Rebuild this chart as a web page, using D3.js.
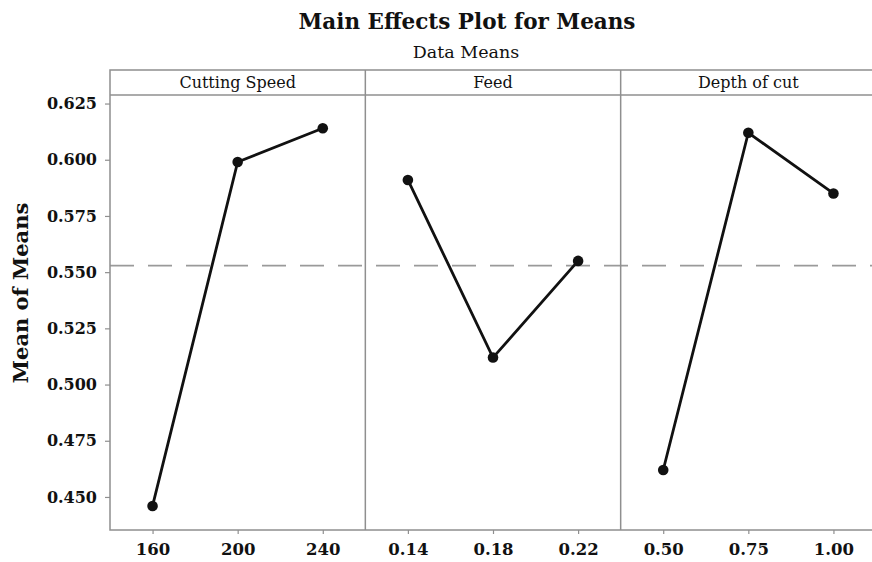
<!DOCTYPE html>
<html>
<head>
<meta charset="utf-8">
<script src="https://cdn.jsdelivr.net/npm/d3@7"></script>
<style>
  body { margin: 0; background: #fff; }
  svg { display: block; }
</style>
</head>
<body>
<div id="chart"></div>
<script>
// ---- data ----
const factors = ["Cutting Speed", "Feed", "Depth of cut"];
const speedLevels = ["160", "200", "240"];
const speedMeans = [0.446, 0.599, 0.614];
const feedLevels = ["0.14", "0.18", "0.22"];
const feedMeans = [0.591, 0.512, 0.555];
const depthLevels = ["0.50", "0.75", "1.00"];
const depthMeans = [0.462, 0.612, 0.585];
const yTicks = [0.450, 0.475, 0.500, 0.525, 0.550, 0.575, 0.600, 0.625];

const panels = [
  { name: factors[0], levels: speedLevels, means: speedMeans },
  { name: factors[1], levels: feedLevels, means: feedMeans },
  { name: factors[2], levels: depthLevels, means: depthMeans }
];
const grandMean = d3.mean([...speedMeans, ...feedMeans, ...depthMeans]);

const width = 872, height = 562;
const left = 110, right = 876, frameTop = 70, headerBottom = 95, bottom = 530;
const serif = "'DejaVu Serif', 'Liberation Serif', serif";
const grey = "#8f8f8f";

const svg = d3.select("#chart").append("svg")
  .attr("width", width)
  .attr("height", height);

const fx = d3.scaleBand().domain(factors).range([left, right]);
const y = d3.scaleLinear().domain([0.4353, 0.6288]).range([bottom, headerBottom]);

// titles
svg.append("text")
  .attr("x", 467).attr("y", 29)
  .attr("text-anchor", "middle")
  .attr("font-family", serif).attr("font-weight", "bold").attr("font-size", 21.5)
  .attr("fill", "#111")
  .text("Main Effects Plot for Means");

svg.append("text")
  .attr("x", 466).attr("y", 58)
  .attr("text-anchor", "middle")
  .attr("font-family", serif).attr("font-size", 17.5)
  .attr("fill", "#111")
  .text("Data Means");

// y axis label
svg.append("text")
  .attr("transform", "translate(28,293) rotate(-90)")
  .attr("text-anchor", "middle")
  .attr("font-family", serif).attr("font-weight", "bold").attr("font-size", 21)
  .attr("fill", "#111")
  .text("Mean of Means");

// y axis
const yAxis = svg.append("g")
  .attr("transform", `translate(${left},0)`)
  .call(d3.axisLeft(y).tickValues(yTicks).tickFormat(d3.format(".3f")).tickSize(5).tickPadding(8));
yAxis.select(".domain").remove();
yAxis.selectAll("line").attr("stroke", grey).attr("stroke-width", 1.2);
yAxis.selectAll("text")
  .attr("font-family", serif).attr("font-weight", "bold").attr("font-size", 16)
  .attr("fill", "#111");

// reference line (grand mean)
svg.append("line")
  .attr("x1", left).attr("x2", right)
  .attr("y1", y(grandMean)).attr("y2", y(grandMean))
  .attr("stroke", "#9a9a9a").attr("stroke-width", 1.6)
  .attr("stroke-dasharray", "24,14");

// panels
panels.forEach(p => {
  const x0 = fx(p.name), x1 = x0 + fx.bandwidth();
  const x = d3.scalePoint().domain(p.levels).range([x0, x1]).padding(0.5);
  const g = svg.append("g");

  // header label
  g.append("text")
    .attr("x", (x0 + x1) / 2).attr("y", 88)
    .attr("text-anchor", "middle")
    .attr("font-family", serif).attr("font-size", 16)
    .attr("fill", "#111")
    .text(p.name);

  // x axis
  const xa = g.append("g")
    .attr("transform", `translate(0,${bottom})`)
    .call(d3.axisBottom(x).tickSize(4).tickPadding(9));
  xa.select(".domain").remove();
  xa.selectAll("line").attr("stroke", grey).attr("stroke-width", 1.2);
  xa.selectAll("text")
    .attr("font-family", serif).attr("font-weight", "bold").attr("font-size", 16.5)
    .attr("fill", "#111");

  const pts = p.levels.map((l, i) => [x(l), y(p.means[i])]);

  g.append("path")
    .attr("d", d3.line()(pts))
    .attr("fill", "none")
    .attr("stroke", "#111")
    .attr("stroke-width", 2.8);

  g.selectAll("circle")
    .data(pts)
    .join("circle")
    .attr("cx", d => d[0]).attr("cy", d => d[1])
    .attr("r", 5.3)
    .attr("fill", "#111");
});

// frame, header band, dividers
svg.append("rect")
  .attr("x", left).attr("y", frameTop)
  .attr("width", right - left).attr("height", bottom - frameTop)
  .attr("fill", "none").attr("stroke", grey).attr("stroke-width", 1.5);

svg.append("line")
  .attr("x1", left).attr("x2", right)
  .attr("y1", headerBottom).attr("y2", headerBottom)
  .attr("stroke", grey).attr("stroke-width", 1.5);

svg.selectAll("line.divider")
  .data(factors.slice(1))
  .join("line")
  .attr("class", "divider")
  .attr("x1", d => fx(d)).attr("x2", d => fx(d))
  .attr("y1", frameTop).attr("y2", bottom)
  .attr("stroke", grey).attr("stroke-width", 1.5);
</script>
</body>
</html>
